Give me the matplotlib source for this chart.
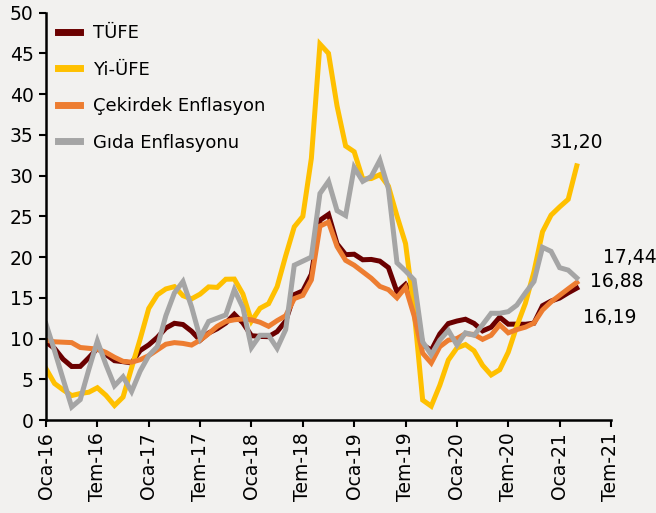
import matplotlib
matplotlib.use("Agg")
import matplotlib.pyplot as plt
import numpy as np

plt.rcParams['font.family'] = ['DejaVu Sans']

tick_labels = ["Oca-16", "Tem-16", "Oca-17", "Tem-17", "Oca-18", "Tem-18",
               "Oca-19", "Tem-19", "Oca-20", "Tem-20", "Oca-21", "Tem-21"]

tufe = [9.58, 8.78, 7.46, 6.57, 6.58, 7.64, 8.79, 8.05, 7.28, 7.16, 7.00, 8.53,
        9.22, 10.13, 11.29, 11.87, 11.72, 10.90, 9.79, 10.68, 11.20, 11.90, 12.98, 11.92,
        10.35, 10.26, 10.23, 10.85, 12.15, 15.39, 15.85, 17.90, 24.52, 25.24, 21.62, 20.30,
        20.35, 19.67, 19.71, 19.50, 18.71, 15.72, 16.65, 15.01, 9.26, 8.55, 10.56, 11.84,
        12.15, 12.37, 11.86, 10.94, 11.39, 12.62, 11.76, 11.77, 11.75, 11.89, 14.03, 14.60,
        14.97, 15.61, 16.19]

yiufe = [6.30, 4.48, 3.70, 3.00, 3.25, 3.41, 3.96, 3.03, 1.78, 2.82, 6.41, 9.94,
         13.69, 15.36, 16.09, 16.37, 15.26, 14.87, 15.45, 16.34, 16.28, 17.28, 17.30, 15.47,
         12.14, 13.71, 14.28, 16.37, 20.16, 23.71, 25.00, 32.13, 46.15, 45.01, 38.54, 33.64,
         32.93, 29.59, 29.64, 30.12, 28.71, 25.04, 21.66, 13.45, 2.45, 1.70, 4.26, 7.36,
         8.84, 9.26, 8.50, 6.71, 5.53, 6.17, 8.33, 11.53, 14.33, 18.20, 23.11, 25.15,
         26.16, 27.09, 31.20]

cekirdek = [9.8, 9.6, 9.55, 9.5, 8.9, 8.8, 8.7, 8.3, 7.7, 7.2, 7.1, 7.4,
            7.9, 8.6, 9.3, 9.5, 9.4, 9.2, 9.8, 10.6, 11.5, 12.1, 12.3, 12.4,
            12.3, 12.0, 11.5, 12.2, 12.8, 14.9, 15.3, 17.2, 23.8, 24.3, 21.3, 19.6,
            19.0, 18.2, 17.4, 16.4, 16.0, 15.0, 16.3, 12.8, 8.2, 7.0, 9.0, 9.8,
            10.0, 10.6, 10.5, 9.9, 10.4, 11.7, 10.7, 11.1, 11.4, 11.9, 13.5, 14.5,
            15.3, 16.1, 16.88]

gida = [11.8, 8.5, 5.0, 1.6, 2.5, 6.2, 9.7, 6.8, 4.2, 5.3, 3.5, 6.0,
        7.9, 9.0, 12.8, 15.6, 17.0, 13.9, 10.1, 12.1, 12.5, 12.9, 16.0, 13.8,
        8.9, 10.4, 10.4, 8.8, 11.1, 19.0, 19.5, 20.0, 27.8, 29.3, 25.7, 25.1,
        31.0, 29.3, 29.9, 31.9, 28.4, 19.3, 18.3, 17.2, 9.6, 8.0, 9.8, 11.0,
        9.2, 10.7, 10.4, 11.7, 13.1, 13.1, 13.3, 14.1, 15.6, 17.0, 21.2, 20.7,
        18.7, 18.4, 17.44]

series = [
    ("TÜFE", tufe, "#6B0000"),
    ("Yi-ÜFE", yiufe, "#FFC000"),
    ("Çekirdek Enflasyon", cekirdek, "#ED7D31"),
    ("Gıda Enflasyonu", gida, "#A5A5A5"),
]

bg = "#F2F1EF"
fig = plt.figure(figsize=(6.56, 5.13), dpi=100, facecolor=bg)
ax = fig.add_axes([46/656, 1 - 420/513, (611-46)/656, (420-12.7)/513])
ax.set_facecolor(bg)

x = np.arange(len(tufe))
for name, vals, col in series:
    ax.plot(x, vals, color=col, lw=3.6, label=name, solid_joinstyle='miter')

ax.set_xlim(0, 66)
ax.set_ylim(0, 50)
ax.set_xticks(np.arange(0, 67, 6))
ax.set_xticklabels(tick_labels, rotation=90, fontsize=13.5)
ax.set_yticks(np.arange(0, 51, 5))
ax.tick_params(axis='y', labelsize=13.5, length=5, width=1.5, direction='out', pad=4)
ax.tick_params(axis='x', length=5, width=1.5, direction='out', pad=4)
for s in ['top', 'right']:
    ax.spines[s].set_visible(False)
for s in ['left', 'bottom']:
    ax.spines[s].set_linewidth(1.8)
    ax.spines[s].set_color('black')

leg = ax.legend(loc='upper left', bbox_to_anchor=(58/656, 1 - 24/513),
                bbox_transform=fig.transFigure, frameon=False, fontsize=13,
                handlelength=1.2, handletextpad=0.75, labelspacing=1.03,
                borderaxespad=0, borderpad=0)
for line in leg.get_lines():
    line.set_linewidth(5)

last = len(tufe) - 1
def lab(vals, dx, dy):
    ax.annotate(f"{vals[-1]:.2f}".replace('.', ','), xy=(last, vals[-1]),
                xytext=(dx, dy), textcoords='offset pixels',
                ha='center', va='center', fontsize=13.5)

lab(yiufe, 0, 23)
lab(gida, 53, 20)
lab(cekirdek, 40, 1)
lab(tufe, 33, -29)

fig.savefig("out.png", dpi=100, facecolor=bg)
